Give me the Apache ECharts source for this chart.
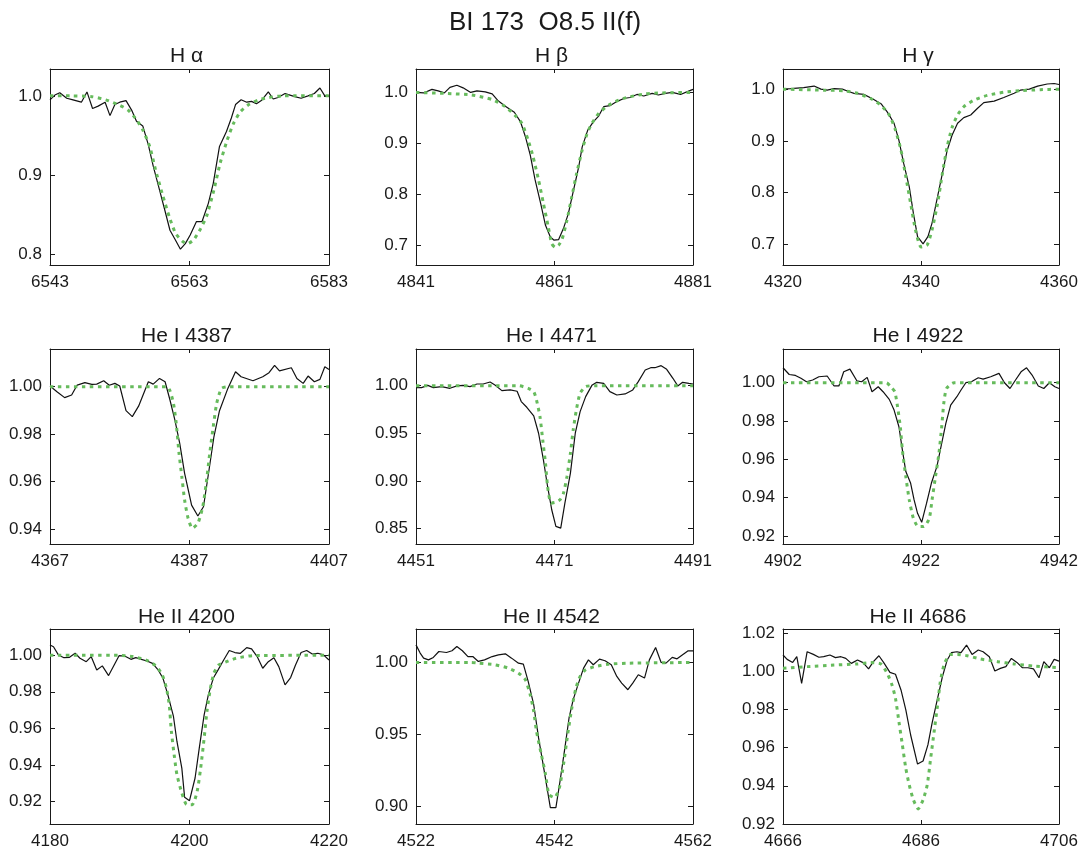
<!DOCTYPE html>
<html>
<head>
<meta charset="utf-8">
<title>BI 173 O8.5 II(f)</title>
<script src="https://cdn.jsdelivr.net/npm/echarts@6/dist/echarts.min.js"></script>
<style>
  html, body { margin: 0; padding: 0; background: #fff; }
  #chart { width: 1086px; height: 855px; }
</style>
</head>
<body>
<div id="chart"></div>
<script>
// Line profiles of BI 173: observed spectrum (black) and model fit (green dotted)
const starTitle = 'BI 173  O8.5 II(f)';
const panelTitles = ['H \u03b1', 'H \u03b2', 'H \u03b3',
                     'He I 4387', 'He I 4471', 'He I 4922',
                     'He II 4200', 'He II 4542', 'He II 4686'];

const xRanges = [[6543, 6583], [4841, 4881], [4320, 4360],
                 [4367, 4407], [4451, 4491], [4902, 4942],
                 [4180, 4220], [4522, 4562], [4666, 4706]];
const xTicks = [[6543, 6563, 6583], [4841, 4861, 4881], [4320, 4340, 4360],
                [4367, 4387, 4407], [4451, 4471, 4491], [4902, 4922, 4942],
                [4180, 4200, 4220], [4522, 4542, 4562], [4666, 4686, 4706]];
const yRanges = [[0.786, 1.034], [0.661, 1.046], [0.660, 1.039],
                 [0.9337, 1.0159], [0.834, 1.0384], [0.9158, 1.0176],
                 [0.9076, 1.0144], [0.888, 1.0232], [0.920, 1.0221]];
const yTicks = [[0.8, 0.9, 1.0], [0.7, 0.8, 0.9, 1.0], [0.7, 0.8, 0.9, 1.0],
                [0.94, 0.96, 0.98, 1.00], [0.85, 0.90, 0.95, 1.00], [0.92, 0.94, 0.96, 0.98, 1.00],
                [0.92, 0.94, 0.96, 0.98, 1.00], [0.90, 0.95, 1.00], [0.92, 0.94, 0.96, 0.98, 1.00, 1.02]];
const yDecimals = [1, 1, 1, 2, 2, 2, 2, 2, 2];

// H alpha
const haObs = [[6543.0,0.995],[6543.7,1.001],[6544.4,1.004],[6545.4,0.997],[6546.3,0.995],[6547.5,0.992],
  [6548.3,1.005],[6549.1,0.984],[6549.9,0.987],[6550.9,0.992],[6551.6,0.975],[6552.3,0.989],[6553.0,0.992],
  [6553.9,0.994],[6554.7,0.982],[6555.4,0.968],[6556.3,0.962],[6557.1,0.938],[6557.8,0.911],[6558.7,0.881],
  [6559.5,0.854],[6560.2,0.830],[6560.9,0.819],[6561.7,0.806],[6562.4,0.813],[6563.1,0.824],[6564.0,0.841],
  [6564.8,0.841],[6565.7,0.864],[6566.4,0.889],[6567.3,0.936],[6568.3,0.955],[6569.0,0.972],[6569.6,0.989],
  [6570.4,0.995],[6571.2,0.992],[6571.9,0.993],[6572.6,0.990],[6573.3,0.994],[6574.3,1.005],[6575.0,0.996],
  [6575.7,0.998],[6576.7,1.003],[6577.4,1.001],[6578.1,0.999],[6579.0,0.997],[6580.0,1.000],[6580.9,1.003],
  [6581.7,1.010],[6582.4,1.000],[6583.0,1.000]];
const haFit = [[6543.0,1.000],[6546.0,1.000],[6549.0,0.999],[6551.0,0.995],[6553.0,0.988],[6554.2,0.982],
  [6555.4,0.970],[6556.3,0.957],[6557.3,0.936],[6558.2,0.904],[6559.2,0.873],[6560.1,0.847],[6561.0,0.826],
  [6562.0,0.816],[6562.7,0.813],[6563.6,0.818],[6564.6,0.832],[6565.5,0.849],[6566.5,0.881],[6567.4,0.915],
  [6568.4,0.944],[6569.3,0.965],[6570.3,0.980],[6571.5,0.989],[6572.9,0.995],[6574.4,0.998],[6576.3,1.000],
  [6583.0,1.000]];

// H beta
const hbObs = [[4841.0,1.000],[4842.1,0.999],[4843.3,1.006],[4844.2,1.003],[4845.1,0.999],[4845.9,1.010],
  [4846.9,1.014],[4847.8,1.009],[4848.9,1.000],[4849.8,1.003],[4851.0,1.001],[4852.0,0.997],[4852.9,0.983],
  [4853.9,0.973],[4855.2,0.961],[4856.1,0.942],[4856.8,0.913],[4857.5,0.877],[4858.2,0.828],[4859.0,0.782],
  [4859.7,0.739],[4860.4,0.716],[4860.9,0.710],[4861.6,0.711],[4862.3,0.733],[4863.0,0.762],[4863.7,0.805],
  [4864.5,0.854],[4865.0,0.893],[4865.8,0.926],[4866.6,0.942],[4867.4,0.954],[4868.1,0.972],[4869.0,0.974],
  [4870.0,0.982],[4871.0,0.988],[4871.9,0.990],[4872.9,0.996],[4873.9,0.993],[4875.1,0.998],[4876.0,0.995],
  [4877.0,0.998],[4878.0,1.000],[4879.2,0.996],[4880.1,1.001],[4881.0,1.006]];
const hbFit = [[4841.0,1.000],[4845.2,0.998],[4849.0,0.995],[4852.0,0.986],[4853.9,0.972],[4855.3,0.955],
  [4856.3,0.939],[4857.2,0.906],[4857.9,0.874],[4858.7,0.828],[4859.4,0.782],[4860.1,0.736],[4860.6,0.703],
  [4861.1,0.696],[4861.6,0.700],[4862.1,0.712],[4862.8,0.749],[4863.5,0.795],[4864.2,0.841],[4865.0,0.887],
  [4865.7,0.919],[4866.4,0.939],[4867.4,0.959],[4868.8,0.975],[4870.3,0.985],[4871.7,0.991],[4874.1,0.997],
  [4876.5,0.999],[4881.0,1.000]];

// H gamma
const hgObs = [[4320.0,1.000],[4321.1,1.001],[4323.0,1.003],[4324.5,1.006],[4325.5,1.000],[4326.4,0.998],
  [4327.4,1.001],[4328.6,1.000],[4329.6,0.995],[4330.3,0.992],[4331.7,0.990],[4332.9,0.982],[4334.2,0.972],
  [4335.1,0.956],[4336.1,0.934],[4336.8,0.901],[4337.5,0.856],[4338.3,0.811],[4338.9,0.760],[4339.5,0.715],
  [4340.3,0.701],[4341.0,0.715],[4341.6,0.741],[4342.4,0.792],[4343.1,0.837],[4343.8,0.882],[4344.5,0.911],
  [4345.3,0.934],[4346.2,0.945],[4347.2,0.950],[4348.2,0.963],[4349.1,0.974],[4350.6,0.977],[4352.0,0.984],
  [4353.5,0.992],[4354.4,0.998],[4355.7,1.000],[4356.9,1.006],[4358.3,1.010],[4359.3,1.011],[4360.0,1.009]];
const hgFit = [[4320.0,1.000],[4325.9,0.998],[4328.8,0.997],[4330.8,0.992],[4332.7,0.982],[4334.2,0.969],
  [4335.4,0.950],[4336.3,0.921],[4337.1,0.882],[4337.8,0.831],[4338.5,0.779],[4339.2,0.728],[4340.0,0.695],
  [4340.9,0.699],[4341.6,0.728],[4342.4,0.779],[4343.1,0.837],[4343.8,0.889],[4344.5,0.926],[4345.3,0.950],
  [4346.2,0.966],[4347.7,0.979],[4349.6,0.988],[4352.0,0.994],[4354.4,0.997],[4357.3,0.999],[4360.0,1.000]];

// He I 4387
const he4387Obs = [[4367.0,1.0003],[4368.0,0.9979],[4369.1,0.9954],[4370.1,0.9965],[4370.9,1.0007],[4372.0,1.0017],
  [4373.0,1.0010],[4373.7,1.0011],[4374.7,1.0025],[4375.5,1.0006],[4376.3,1.0014],[4377.0,1.0003],[4377.9,0.9899],
  [4378.8,0.9874],[4379.7,0.9918],[4381.1,1.0021],[4381.8,1.0011],[4382.7,1.0035],[4383.5,1.0021],[4384.2,0.9944],
  [4384.9,0.9860],[4385.6,0.9761],[4386.3,0.9635],[4387.3,0.9501],[4388.2,0.9455],[4389.0,0.9494],[4389.8,0.9649],
  [4390.5,0.9789],[4391.3,0.9899],[4392.5,0.9993],[4393.6,1.0063],[4394.4,1.0042],[4396.1,1.0025],[4397.5,1.0042],
  [4398.4,1.0059],[4399.2,1.0090],[4399.9,1.0067],[4401.6,1.0080],[4402.4,1.0035],[4403.3,1.0014],[4404.0,1.0045],
  [4404.9,1.0021],[4405.7,1.0031],[4406.4,1.0084],[4407.0,1.0073]];
const he4387Fit = [[4367.0,1.0000],[4383.8,1.0000],[4384.2,0.9983],[4384.7,0.9930],[4385.1,0.9845],[4385.5,0.9719],
  [4385.9,0.9621],[4386.3,0.9522],[4386.8,0.9445],[4387.4,0.9403],[4388.2,0.9424],[4388.9,0.9494],[4389.4,0.9593],
  [4389.9,0.9719],[4390.4,0.9831],[4390.9,0.9930],[4391.6,0.9993],[4392.8,1.0000],[4407.0,1.0000]];

// He I 4471
const he4471Obs = [[4451.0,0.9979],[4451.8,0.9979],[4452.7,1.0003],[4453.5,0.9979],[4454.7,0.9990],[4455.9,0.9972],
  [4456.9,0.9997],[4457.8,1.0003],[4458.8,0.9990],[4459.8,1.0017],[4460.7,1.0017],[4461.7,1.0038],[4462.4,1.0007],
  [4463.4,0.9948],[4464.6,0.9955],[4465.6,0.9941],[4466.2,0.9833],[4467.0,0.9773],[4468.0,0.9683],[4468.7,0.9501],
  [4469.4,0.9222],[4470.0,0.8943],[4470.6,0.8699],[4471.2,0.8525],[4471.9,0.8507],[4472.5,0.8769],[4473.3,0.9083],
  [4474.0,0.9501],[4474.7,0.9728],[4475.5,0.9885],[4476.4,1.0003],[4477.1,1.0035],[4478.1,1.0024],[4479.0,0.9937],
  [4480.0,0.9902],[4481.2,0.9913],[4482.3,0.9955],[4483.1,1.0042],[4484.1,1.0164],[4484.9,1.0188],[4485.5,1.0188],
  [4486.4,1.0209],[4487.2,1.0171],[4488.1,1.0077],[4488.8,0.9997],[4489.5,1.0035],[4490.4,1.0024],[4491.0,1.0017]];
const he4471Fit = [[4451.0,1.0000],[4465.8,1.0000],[4467.2,0.9972],[4468.0,0.9937],[4468.4,0.9850],[4468.9,0.9676],
  [4469.3,0.9431],[4469.7,0.9187],[4470.0,0.8943],[4470.5,0.8769],[4471.1,0.8776],[4471.8,0.8804],[4472.3,0.8873],
  [4472.8,0.9048],[4473.3,0.9292],[4473.7,0.9536],[4474.2,0.9763],[4474.7,0.9920],[4475.5,0.9990],[4476.9,1.0000],
  [4491.0,1.0000]];

// He I 4922
const he4922Obs = [[4902.0,1.0078],[4902.9,1.0043],[4903.8,1.0038],[4904.6,1.0023],[4905.4,1.0005],[4906.3,1.0014],
  [4907.2,1.0031],[4908.4,1.0035],[4909.4,0.9983],[4910.1,0.9983],[4910.8,1.0057],[4911.7,1.0071],[4912.7,1.0010],
  [4913.4,1.0005],[4914.2,1.0028],[4914.9,0.9953],[4915.8,0.9979],[4916.5,0.9953],[4917.4,0.9913],[4918.1,0.9857],
  [4918.8,0.9770],[4919.3,0.9649],[4919.8,0.9536],[4920.5,0.9475],[4921.0,0.9388],[4921.5,0.9318],[4922.1,0.9271],
  [4922.8,0.9370],[4923.5,0.9475],[4924.3,0.9562],[4924.9,0.9666],[4925.6,0.9788],[4926.3,0.9883],[4927.2,0.9927],
  [4927.8,0.9962],[4928.5,1.0000],[4929.3,1.0005],[4930.3,1.0026],[4931.0,1.0019],[4932.1,1.0031],[4933.3,1.0049],
  [4934.1,1.0000],[4934.9,0.9970],[4935.7,1.0014],[4936.5,1.0057],[4937.3,1.0078],[4938.1,1.0040],[4939.0,0.9983],
  [4939.8,0.9970],[4940.6,1.0000],[4941.4,0.9979],[4942.0,0.9970]];
const he4922Fit = [[4902.0,1.0000],[4917.0,1.0000],[4917.6,0.9979],[4918.2,0.9953],[4918.6,0.9875],[4919.0,0.9770],
  [4919.3,0.9649],[4919.8,0.9510],[4920.3,0.9388],[4920.9,0.9292],[4921.6,0.9249],[4922.4,0.9249],[4923.2,0.9292],
  [4923.6,0.9388],[4924.1,0.9510],[4924.6,0.9631],[4925.0,0.9770],[4925.3,0.9892],[4925.7,0.9970],[4926.8,1.0000],
  [4942.0,1.0000]];

// He II 4200
const he4200Obs = [[4180.0,1.0056],[4180.5,1.0047],[4181.2,1.0002],[4182.0,0.9987],[4182.8,0.9989],[4183.6,1.0011],
  [4184.3,0.9984],[4185.2,0.9965],[4185.9,0.9993],[4186.7,0.9920],[4187.5,0.9942],[4188.4,0.9889],[4189.2,0.9947],
  [4189.9,0.9998],[4190.7,0.9996],[4191.6,0.9978],[4192.3,0.9987],[4193.1,0.9978],[4193.9,0.9969],[4194.7,0.9956],
  [4195.5,0.9920],[4196.2,0.9874],[4196.9,0.9783],[4197.7,0.9665],[4198.2,0.9528],[4198.9,0.9382],[4199.3,0.9222],
  [4200.0,0.9204],[4200.8,0.9328],[4201.4,0.9492],[4202.1,0.9674],[4202.7,0.9783],[4203.4,0.9874],[4204.1,0.9920],
  [4204.9,0.9974],[4205.7,1.0026],[4206.5,1.0015],[4207.3,1.0011],[4208.2,1.0042],[4208.9,1.0035],[4209.7,0.9993],
  [4210.5,0.9929],[4211.3,0.9965],[4212.1,0.9987],[4212.8,0.9938],[4213.7,0.9838],[4214.5,0.9878],[4215.2,0.9947],
  [4216.0,1.0015],[4216.8,1.0026],[4217.6,1.0007],[4218.4,1.0011],[4219.2,1.0002],[4220.0,0.9974]];
const he4200Fit = [[4180.0,1.0000],[4190.0,1.0000],[4191.9,0.9993],[4193.8,0.9974],[4195.3,0.9938],[4196.1,0.9892],
  [4196.7,0.9820],[4197.1,0.9728],[4197.4,0.9583],[4197.8,0.9455],[4198.2,0.9346],[4198.9,0.9246],[4199.6,0.9182],
  [4200.4,0.9182],[4201.1,0.9255],[4201.6,0.9382],[4202.1,0.9546],[4202.5,0.9692],[4203.0,0.9820],[4203.5,0.9902],
  [4204.2,0.9947],[4205.3,0.9965],[4206.7,0.9984],[4209.1,0.9998],[4220.0,1.0000]];

// He II 4542
const he4542Obs = [[4522.0,1.0122],[4522.6,1.0065],[4523.1,1.0030],[4523.8,1.0018],[4524.5,1.0035],[4525.3,1.0076],
  [4526.4,1.0069],[4527.2,1.0081],[4527.9,1.0111],[4528.7,1.0081],[4529.5,1.0041],[4530.2,1.0041],[4531.0,1.0007],
  [4531.9,1.0018],[4533.0,1.0041],[4533.9,1.0053],[4534.9,1.0060],[4535.8,1.0030],[4536.8,0.9995],[4537.5,0.9988],
  [4538.2,0.9869],[4539.0,0.9707],[4539.7,0.9477],[4540.6,0.9224],[4541.4,0.8993],[4542.2,0.8993],[4542.8,0.9177],
  [4543.5,0.9408],[4544.1,0.9615],[4544.7,0.9742],[4545.4,0.9846],[4546.2,0.9961],[4546.9,1.0018],[4547.6,0.9984],
  [4548.5,1.0023],[4549.3,1.0012],[4550.2,0.9984],[4551.0,0.9903],[4551.7,0.9857],[4552.6,0.9811],[4553.3,0.9857],
  [4554.1,0.9915],[4555.0,0.9892],[4555.7,1.0018],[4556.6,1.0104],[4557.4,1.0000],[4558.1,0.9995],[4559.0,1.0035],
  [4559.7,1.0025],[4560.5,1.0053],[4561.3,1.0081],[4562.0,1.0081]];
const he4542Fit = [[4522.0,1.0000],[4530.0,1.0000],[4531.0,0.9995],[4533.4,0.9984],[4535.3,0.9961],[4536.8,0.9926],
  [4537.8,0.9880],[4538.5,0.9776],[4539.0,0.9661],[4539.4,0.9523],[4540.1,0.9362],[4540.7,0.9224],[4541.2,0.9085],
  [4542.0,0.9062],[4542.7,0.9131],[4543.3,0.9293],[4543.9,0.9500],[4544.5,0.9684],[4545.1,0.9823],[4545.7,0.9903],
  [4546.5,0.9949],[4547.9,0.9972],[4549.8,0.9988],[4552.7,0.9995],[4562.0,1.0000]];

// He II 4686
const he4686Obs = [[4666.0,1.0085],[4666.6,1.0062],[4667.4,1.0046],[4668.0,1.0076],[4668.7,0.9936],[4669.5,1.0102],
  [4670.4,1.0088],[4671.2,1.0073],[4671.9,1.0076],[4672.8,1.0085],[4673.6,1.0071],[4674.4,1.0076],[4675.1,1.0067],
  [4675.9,1.0041],[4676.8,1.0059],[4677.6,1.0045],[4678.4,1.0012],[4679.1,1.0050],[4679.9,1.0081],[4680.6,1.0045],
  [4681.5,0.9994],[4682.3,0.9984],[4683.1,0.9902],[4683.8,0.9797],[4684.5,0.9666],[4685.5,0.9514],[4686.3,0.9530],
  [4687.0,0.9614],[4687.6,0.9727],[4688.4,0.9858],[4689.1,0.9971],[4689.8,1.0059],[4690.4,1.0097],[4691.2,1.0102],
  [4691.8,1.0097],[4692.6,1.0137],[4693.4,1.0088],[4694.3,1.0111],[4695.0,1.0102],[4695.9,1.0076],[4696.7,1.0001],
  [4697.5,1.0015],[4698.3,1.0024],[4699.1,1.0067],[4699.9,1.0046],[4700.7,1.0018],[4701.5,1.0018],[4702.3,1.0012],
  [4703.1,0.9966],[4703.8,1.0050],[4704.6,1.0018],[4705.3,1.0062],[4706.0,1.0053]];
const he4686Fit = [[4666.0,1.0015],[4669.5,1.0024],[4673.4,1.0032],[4676.8,1.0038],[4678.7,1.0045],[4680.2,1.0038],
  [4681.1,0.9989],[4681.8,0.9928],[4682.3,0.9858],[4682.8,0.9736],[4683.3,0.9614],[4683.8,0.9491],[4684.3,0.9404],
  [4684.9,0.9326],[4685.6,0.9279],[4686.3,0.9326],[4686.9,0.9404],[4687.4,0.9544],[4687.9,0.9683],[4688.4,0.9823],
  [4688.8,0.9945],[4689.4,1.0041],[4690.3,1.0088],[4691.3,1.0088],[4692.7,1.0081],[4694.6,1.0064],[4697.1,1.0050],
  [4699.5,1.0038],[4702.4,1.0027],[4706.0,1.0019]];

const observed = [haObs, hbObs, hgObs, he4387Obs, he4471Obs, he4922Obs, he4200Obs, he4542Obs, he4686Obs];
const model = [haFit, hbFit, hgFit, he4387Fit, he4471Fit, he4922Fit, he4200Fit, he4542Fit, he4686Fit];

// ---- layout ----
const FONT = '"Liberation Sans", Arial, Helvetica, sans-serif';
const INK = '#1a1a1a';
const colLeft = [50, 416, 783];
const colWidth = [279, 277, 276];
const rowTop = [69, 349, 629];
const rowHeight = [196, 195, 195];
const titleY = [56, 336, 617];

const grids = [], xAxes = [], yAxes = [], series = [], texts = [];

const boxLine = { show: true, onZero: false, lineStyle: { color: INK, width: 1 } };
const tickStyle = { lineStyle: { color: INK, width: 1 } };

for (let i = 0; i < 9; i++) {
  const r = Math.floor(i / 3), c = i % 3;
  grids.push({ left: colLeft[c], top: rowTop[r], width: colWidth[c], height: rowHeight[r], containLabel: false });

  const xBase = { type: 'value', gridIndex: i, min: xRanges[i][0], max: xRanges[i][1],
    splitLine: { show: false }, axisLine: boxLine };
  xAxes.push(Object.assign({}, xBase, {
    position: 'bottom',
    axisTick: Object.assign({ show: true, inside: true, length: 4, customValues: xTicks[i] }, tickStyle),
    axisLabel: { show: true, customValues: xTicks[i], margin: 9, fontSize: 17, fontFamily: FONT, color: INK,
      formatter: v => String(Math.round(v)) }
  }));
  xAxes.push(Object.assign({}, xBase, {
    position: 'top',
    axisTick: Object.assign({ show: true, inside: true, length: 4, customValues: xTicks[i] }, tickStyle),
    axisLabel: { show: false }
  }));

  const yBase = { type: 'value', gridIndex: i, min: yRanges[i][0], max: yRanges[i][1], scale: true,
    splitLine: { show: false }, axisLine: boxLine };
  yAxes.push(Object.assign({}, yBase, {
    position: 'left',
    axisTick: Object.assign({ show: true, inside: true, length: 5, customValues: yTicks[i] }, tickStyle),
    axisLabel: { show: true, customValues: yTicks[i], margin: 8, fontSize: 17, fontFamily: FONT, color: INK,
      formatter: (v => val => val.toFixed(yDecimals[v]))(i) }
  }));
  yAxes.push(Object.assign({}, yBase, {
    position: 'right',
    axisTick: Object.assign({ show: true, inside: true, length: 5, customValues: yTicks[i] }, tickStyle),
    axisLabel: { show: false }
  }));

  series.push({
    name: panelTitles[i] + ' observed', type: 'line', xAxisIndex: 2 * i, yAxisIndex: 2 * i,
    data: observed[i], showSymbol: false, symbol: 'none', clip: true,
    lineStyle: { color: '#111111', width: 1.2 }, z: 2
  });
  series.push({
    name: panelTitles[i] + ' model', type: 'line', xAxisIndex: 2 * i, yAxisIndex: 2 * i,
    data: model[i], showSymbol: false, symbol: 'none', clip: true, smooth: 0.2,
    lineStyle: { color: '#66bb5c', width: 3, type: [3.5, 4.5], cap: 'butt' }, z: 3
  });

  texts.push({
    type: 'text', x: colLeft[c] + colWidth[c] / 2 - 3, y: titleY[r], silent: true,
    style: { text: panelTitles[i], font: '21px ' + FONT, fill: INK, textAlign: 'center', textVerticalAlign: 'middle' }
  });
}

texts.push({
  type: 'text', x: 545, y: 23, silent: true,
  style: { text: starTitle, font: '26px ' + FONT, fill: INK, textAlign: 'center', textVerticalAlign: 'middle' }
});

const chart = echarts.init(document.getElementById('chart'), null, { renderer: 'canvas' });
chart.setOption({
  backgroundColor: '#ffffff',
  animation: false,
  grid: grids,
  xAxis: xAxes,
  yAxis: yAxes,
  series: series,
  graphic: texts
});
</script>
</body>
</html>
